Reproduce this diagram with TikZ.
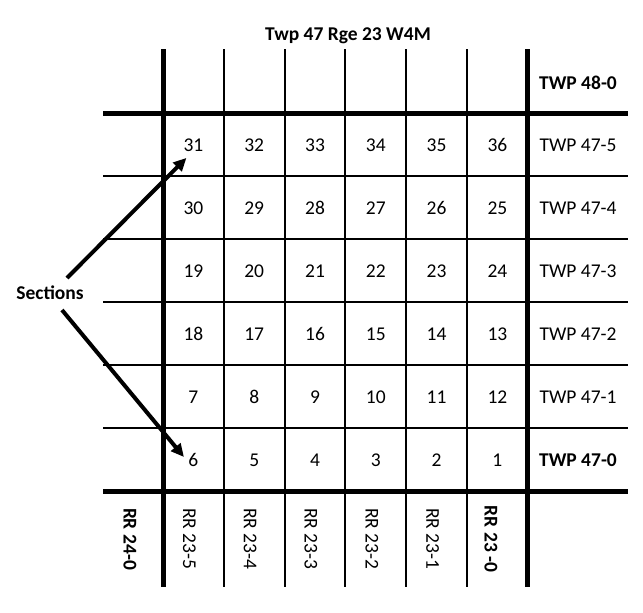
\documentclass[tikz,border=0pt]{standalone}
\usepackage{fontspec}
\setmainfont{Carlito}
\usetikzlibrary{arrows.meta}
\tikzset{
  %% ---- grid lines ----
  thinline/.style  = {line width=2pt},
  thickline/.style = {line width=5pt},
  %% ---- texts ----
  secnum/.style    = {font=\fontsize{19.5}{22}\selectfont},
  twplabel/.style  = {font=\fontsize{19.5}{22}\selectfont},
  boldlabel/.style = {font=\fontsize{19.5}{22}\selectfont\bfseries},
  rrlabel/.style   = {rotate=-90, font=\fontsize{19.5}{22}\selectfont},
  %% ---- arrows ----
  arrow/.style     = {-{Triangle[length=13pt,width=12pt]}, line width=4pt},
}

\begin{document}
\begin{tikzpicture}[x=1pt, y=-1pt]
  \useasboundingbox (0,0) rectangle (643,613);

  %% grid
  \foreach \i in {1,...,5}
    \draw[thinline] ({163+60.8*\i},49) -- ({163+60.8*\i},587);
  \foreach \j in {1,...,5}
    \draw[thinline] (103,{113+63*\j}) -- (628,{113+63*\j});
  \draw[thickline] (163,49) -- (163,587);
  \draw[thickline] (527.8,49) -- (527.8,587);
  \draw[thickline] (103,113) -- (628,113);
  \draw[thickline] (103,491) -- (628,491);

  %% title
  \node[boldlabel] (title) at (348,36) {Twp 47 Rge 23 W4M};

  %% section numbers
  \foreach \n [count=\c from 0] in {31,32,33,34,35,36,
                                    30,29,28,27,26,25,
                                    19,20,21,22,23,24,
                                    18,17,16,15,14,13,
                                    7,8,9,10,11,12,
                                    6,5,4,3,2,1} {
    \pgfmathtruncatemacro\col{mod(\c,6)}
    \pgfmathtruncatemacro\row{\c/6}
    \node[secnum] (s\n) at ({193.4+60.8*\col},{145+63*\row}) {\n};
  }

  %% township lines
  \node[boldlabel] (twp48) at (578,83) {TWP 48-0};
  \foreach \k in {1,...,5}
    \node[twplabel] (twp\k) at (578,{145+63*(5-\k)}) {TWP 47-\k};
  \node[boldlabel] (twp0) at (578,460) {TWP 47-0};

  %% range roads
  \node[boldlabel, rotate=-90] (rr24) at (130,539) {RR 24-0};
  \foreach \k in {1,...,5}
    \node[rrlabel] (rr\k) at ({189.4+60.8*(5-\k)},539) {RR 23-\k};
  \node[boldlabel, rotate=-90] (rr0) at (491,539) {RR 23 -0};

  %% sections pointer
  \node[boldlabel] (sec) at (50,293) {Sections};
  \draw[arrow] ([shift={(17pt,15pt)}]sec.center) -- ([shift={(-7pt,-3pt)}]s31.south);
  \draw[arrow] ([shift={(12pt,-17pt)}]sec.center) -- ([shift={(-1pt,3pt)}]s6.west);

\end{tikzpicture}
\end{document}
